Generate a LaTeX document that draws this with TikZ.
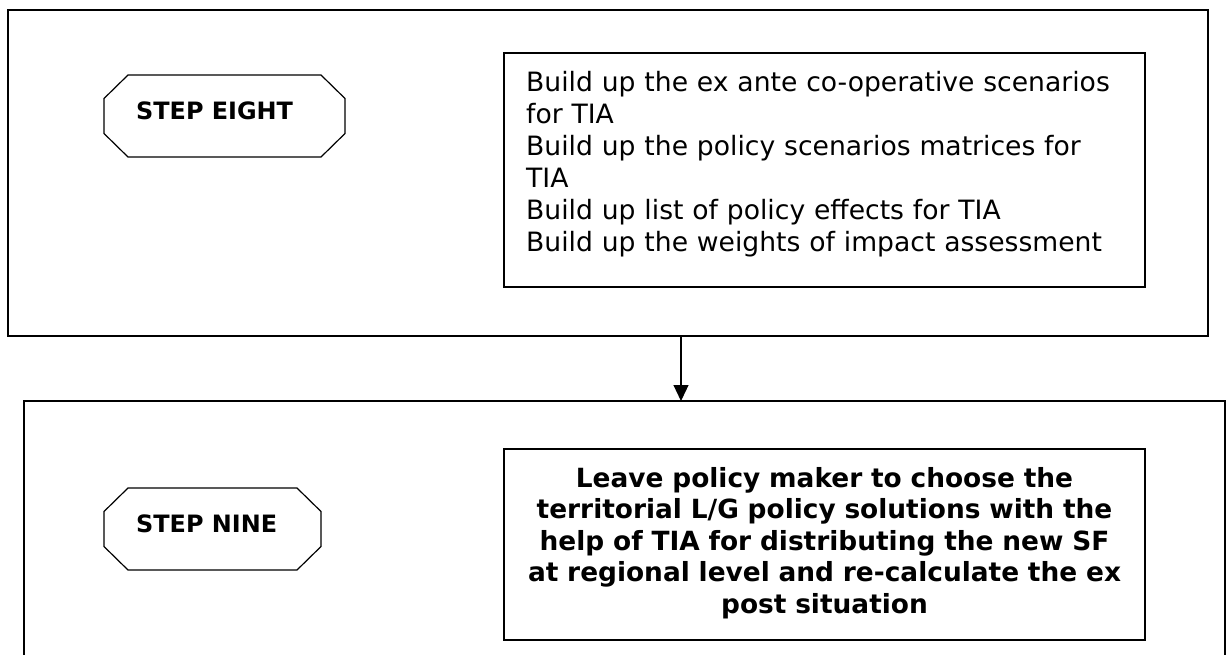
\documentclass[tikz,border=0pt]{standalone}
\usepackage{fontspec}
\setmainfont{DejaVu Sans}
\usetikzlibrary{arrows.meta}

% octagonal outline drawn around a named (invisible) node
\newcommand\chamferframe[1]{%
  \draw[octline]
    ([xshift=24pt]#1.north west) -- ([xshift=-24pt]#1.north east)
    -- ([yshift=-23.5pt]#1.north east) -- ([yshift=23.5pt]#1.south east)
    -- ([xshift=-24pt]#1.south east) -- ([xshift=24pt]#1.south west)
    -- ([yshift=23.5pt]#1.south west) -- ([yshift=-23.5pt]#1.north west)
    -- cycle;}

\begin{document}
\begin{tikzpicture}[x=1pt,y=-1pt,
  frame/.style={draw=black, line width=1.2pt, rectangle, inner sep=0pt,
                outer sep=0pt, anchor=north west},
  octbase/.style={rectangle, inner sep=0pt, outer sep=0pt, anchor=north west},
  octline/.style={draw=black, line width=1.2pt, line join=miter},
  steplabel/.style={font=\fontsize{23.9}{28}\selectfont\bfseries,
                    inner sep=0pt, anchor=base west},
  listtext/.style={font=\fontsize{26.6}{32}\selectfont, inner sep=0pt,
                   anchor=base west, text width=600pt, align=left},
  boldtext/.style={font=\fontsize{26.4}{31.5}\selectfont\bfseries,
                   inner sep=0pt, anchor=base, text width=630pt, align=center},
  flow/.style={line width=1.2pt, -{Triangle[length=16pt,width=15pt]}}
]
\useasboundingbox (0,0) rectangle (1228,654);
\clip (0,0) rectangle (1228,654);

% step eight panel
\node[frame, minimum width=1200pt, minimum height=326pt] (stage8) at (8,10) {};
\node[octbase, minimum width=241pt, minimum height=82pt] (oct8) at (104,75) {};
\chamferframe{oct8}
\node[steplabel] (label8) at (136,119) {STEP EIGHT};
\node[frame, minimum width=641pt, minimum height=234pt] (box8) at (504,53) {};
\node[listtext] (list8) at (526,91) {Build up the ex ante co-operative scenarios\\
for TIA\\
Build up the policy scenarios matrices for\\
TIA\\
Build up list of policy effects for TIA\\
Build up the weights of impact assessment};

% step nine panel
\node[frame, minimum width=1201pt, minimum height=300pt] (stage9) at (24,401) {};
\node[octbase, minimum width=217pt, minimum height=82pt] (oct9) at (104,488) {};
\chamferframe{oct9}
\node[steplabel] (label9) at (136,532) {STEP NINE};
\node[frame, minimum width=641pt, minimum height=191pt] (box9) at (504,449) {};
\node[boldtext] (text9) at (824.5,487) {Leave policy maker to choose the\\
territorial L/G policy solutions with the\\
help of TIA for distributing the new SF\\
at regional level and re-calculate the ex\\
post situation};

% link between the two panels
\coordinate (drop) at (681,0);
\draw[flow] (stage8.south -| drop) -- (stage9.north -| drop);
\end{tikzpicture}
\end{document}
